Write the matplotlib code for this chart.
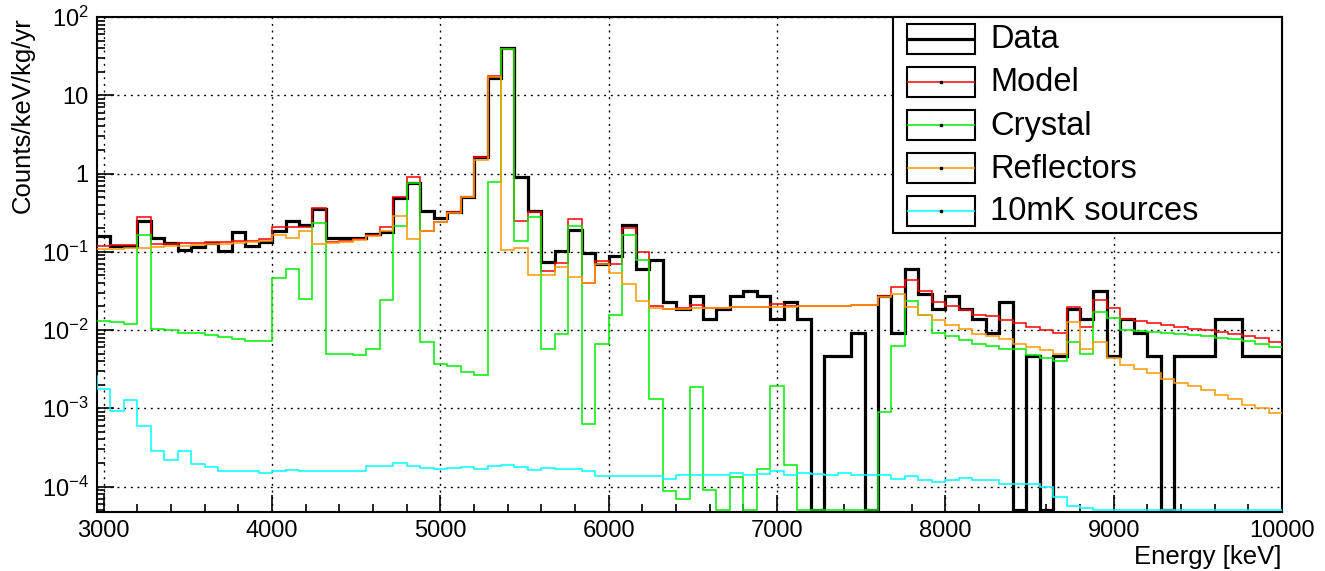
import numpy as np
import matplotlib
matplotlib.use("Agg")
import matplotlib.pyplot as plt
from matplotlib.ticker import FixedLocator, MultipleLocator, LogLocator, FuncFormatter, NullFormatter
from matplotlib.patches import Rectangle

plt.rcParams['font.family'] = ['Liberation Sans', 'DejaVu Sans']
plt.rcParams['mathtext.fontset'] = 'custom'
plt.rcParams['mathtext.rm'] = 'Liberation Sans'
plt.rcParams['mathtext.it'] = 'Liberation Sans:italic'
plt.rcParams['mathtext.bf'] = 'Liberation Sans:bold'

# ---------------- data ----------------
# 80 keV bins; first bin (2880-2960) lies just left of the visible axis range
bin_start = 2880
bin_width = 80
bin_stop = 10000

data = [0.160,
        0.160, 0.118, 0.118, 0.245, 0.149, 0.128, 0.104, 0.115, 0.128, 0.102,
        0.178, 0.118, 0.135, 0.182, 0.247, 0.222, 0.351, 0.152, 0.152, 0.150,
        0.168, 0.177, 0.490, 0.760, 0.333, 0.268, 0.320, 0.500, 1.64, 16.4,
        40.5, 0.89, 0.335, 0.073, 0.101, 0.190, 0.096, 0.069, 0.088, 0.217,
        0.061, 0.078, 0.0230, 0.0183, 0.0275, 0.0137, 0.0183, 0.0275, 0.0320, 0.0275,
        0.0137, 0.0230, 0.0137, 0.0, 0.0046, 0.0046, 0.0092, 0.0, 0.0275, 0.0092,
        0.060, 0.0290, 0.0183, 0.0275, 0.0183, 0.0137, 0.0092, 0.0230, 0.0, 0.0046,
        0.0, 0.0046, 0.0183, 0.0137, 0.0320, 0.0046, 0.0137, 0.0092, 0.0046, 0.0,
        0.0046, 0.0046, 0.0046, 0.0137, 0.0137, 0.0046, 0.0046, 0.0046]

model = [0.120,
         0.120, 0.122, 0.123, 0.275, 0.126, 0.127, 0.129, 0.131, 0.132, 0.134,
         0.137, 0.139, 0.144, 0.209, 0.210, 0.207, 0.362, 0.135, 0.137, 0.145,
         0.165, 0.207, 0.500, 0.900, 0.187, 0.243, 0.318, 0.500, 1.61, 17.8,
         38.7, 0.248, 0.322, 0.057, 0.072, 0.265, 0.040, 0.077, 0.070, 0.200,
         0.100, 0.0205, 0.0188, 0.0189, 0.0209, 0.0191, 0.0192, 0.0196, 0.0195, 0.0198,
         0.0218, 0.0200, 0.0200, 0.0201, 0.0203, 0.0205, 0.0207, 0.0210, 0.0274, 0.0350,
         0.0435, 0.0312, 0.0226, 0.0200, 0.0178, 0.0156, 0.0150, 0.0134, 0.0123, 0.0110,
         0.0101, 0.0091, 0.0195, 0.0109, 0.0243, 0.0190, 0.0140, 0.0130, 0.0122, 0.0115,
         0.0108, 0.0103, 0.0099, 0.0094, 0.0089, 0.0083, 0.0078, 0.0071]

crystal = [0.0132,
           0.0132, 0.0125, 0.0119, 0.162, 0.0103, 0.0099, 0.0092, 0.0091, 0.0086, 0.0081,
           0.0077, 0.0073, 0.0072, 0.046, 0.061, 0.025, 0.234, 0.0050, 0.0049, 0.0048,
           0.0058, 0.0245, 0.214, 0.76, 0.0071, 0.0037, 0.0035, 0.0029, 0.0027, 0.78,
           38.6, 0.136, 0.277, 0.0058, 0.0090, 0.215, 0.00063, 0.0066, 0.0157, 0.163,
           0.078, 0.0013, 8.8e-5, 7.0e-5, 1.86e-3, 9.0e-5, 0.0, 1.32e-4, 0.0, 1.66e-4,
           1.9e-3, 1.86e-4, 0.0, 0.0, 0.0, 0.0, 0.0, 0.0, 8.9e-4, 0.0062,
           0.0237, 0.0154, 0.0093, 0.0083, 0.0074, 0.0066, 0.0062, 0.0057, 0.0057, 0.0048,
           0.0044, 0.0040, 0.0070, 0.0049, 0.0172, 0.0143, 0.0101, 0.0096, 0.0094, 0.0091,
           0.0088, 0.0086, 0.0083, 0.0079, 0.0077, 0.0073, 0.0067, 0.0061]

reflectors = [0.107,
              0.107, 0.109, 0.111, 0.113, 0.115, 0.117, 0.119, 0.121, 0.124, 0.126,
              0.129, 0.132, 0.136, 0.163, 0.152, 0.182, 0.127, 0.130, 0.135, 0.142,
              0.158, 0.182, 0.288, 0.146, 0.183, 0.240, 0.315, 0.495, 1.50, 17.0,
              0.104, 0.113, 0.050, 0.0505, 0.063, 0.047, 0.0398, 0.0697, 0.0534, 0.0387,
              0.0237, 0.0191, 0.0187, 0.0188, 0.0190, 0.0190, 0.0192, 0.0195, 0.0195, 0.0196,
              0.0199, 0.0198, 0.0200, 0.0201, 0.0203, 0.0205, 0.0207, 0.0210, 0.0265, 0.0289,
              0.0196, 0.0154, 0.0133, 0.0115, 0.0103, 0.0090, 0.0083, 0.0077, 0.0067, 0.0061,
              0.0056, 0.0050, 0.0127, 0.0058, 0.0070, 0.0044, 0.0036, 0.0032, 0.0028, 0.0024,
              0.0021, 0.0019, 0.0017, 0.0015, 0.0013, 0.0011, 0.0010, 0.00087]

sources_10mk = [2.6e-3,
                1.78e-3, 9.2e-4, 1.29e-3, 6.0e-4, 2.83e-4, 2.17e-4, 2.83e-4, 1.97e-4, 1.77e-4, 1.60e-4,
                1.57e-4, 1.60e-4, 1.49e-4, 1.60e-4, 1.61e-4, 1.60e-4, 1.58e-4, 1.57e-4, 1.60e-4, 1.60e-4,
                1.82e-4, 1.82e-4, 2.00e-4, 1.82e-4, 1.73e-4, 1.70e-4, 1.73e-4, 1.80e-4, 1.70e-4, 1.85e-4,
                1.86e-4, 1.80e-4, 1.65e-4, 1.75e-4, 1.66e-4, 1.70e-4, 1.57e-4, 1.36e-4, 1.36e-4, 1.37e-4,
                1.38e-4, 1.38e-4, 1.26e-4, 1.40e-4, 1.41e-4, 1.41e-4, 1.42e-4, 1.50e-4, 1.42e-4, 1.45e-4,
                1.58e-4, 1.41e-4, 1.50e-4, 1.45e-4, 1.42e-4, 1.47e-4, 1.42e-4, 1.42e-4, 1.42e-4, 1.26e-4,
                1.35e-4, 1.22e-4, 1.15e-4, 1.20e-4, 1.28e-4, 1.22e-4, 1.22e-4, 1.07e-4, 1.07e-4, 1.09e-4,
                9.8e-5, 7.4e-5, 5.7e-5, 5.3e-5, 4.6e-5, 4.4e-5, 4.2e-5, 4.0e-5, 3.8e-5, 3.6e-5,
                3.5e-5, 3.4e-5, 3.3e-5, 3.2e-5, 3.1e-5, 3.0e-5, 2.9e-5, 2.8e-5]

labels = ["Data", "Model", "Crystal", "Reflectors", "10mK sources"]
x_ticks = [3000, 4000, 5000, 6000, 7000, 8000, 9000, 10000]
y_ticks = [1e-4, 1e-3, 1e-2, 1e-1, 1, 10, 100]

# ---------------- style ----------------
colors = ["black", "#ff0000", "#00ee00", "#ff9900", "#00ffff"]
widths = [2.3, 1.1, 1.1, 1.1, 1.1]
X_MIN, X_MAX = 2960, 10000
Y_MIN, Y_MAX = 4.8e-5, 100

W, H = 1325, 571
fig = plt.figure(figsize=(W / 100, H / 100), dpi=100)
ax = fig.add_axes([97 / W, 1 - 511.5 / H, (1282 - 97) / W, (511.5 - 17) / H])

edges = np.arange(bin_start, bin_stop + 1, bin_width)
series = [data, model, crystal, reflectors, sources_10mk]
for vals, c, lw in zip(series, colors, widths):
    v = np.clip(np.asarray(vals, dtype=float), Y_MIN * 1.03, None)
    ax.stairs(v, edges, baseline=None, color=c, lw=lw, zorder=3)

ax.set_yscale('log')
ax.set_xlim(X_MIN, X_MAX)
ax.set_ylim(Y_MIN, Y_MAX)

ax.xaxis.set_major_locator(FixedLocator(x_ticks))
ax.xaxis.set_minor_locator(MultipleLocator(200))
ax.yaxis.set_major_locator(FixedLocator(y_ticks))
ax.yaxis.set_minor_locator(LogLocator(base=10, subs=np.arange(2, 10), numticks=20))
ax.yaxis.set_minor_formatter(NullFormatter())


def yfmt(v, pos):
    e = int(round(np.log10(v)))
    if e == 0:
        return "1"
    if e == 1:
        return "10"
    return r"$10^{%d}$" % e


ax.yaxis.set_major_formatter(FuncFormatter(yfmt))
ax.tick_params(which='both', direction='in', top=False, right=False, width=1.2, labelsize=17)
ax.tick_params(axis='x', which='major', length=12, pad=6)
ax.tick_params(axis='x', which='minor', length=6)
ax.tick_params(axis='y', which='major', length=12, pad=6)
ax.tick_params(axis='y', which='minor', length=6)
for s in ax.spines.values():
    s.set_linewidth(1.5)

ax.grid(True, which='major', color='black', lw=1.0, linestyle=(0, (1.4, 3.4)), zorder=1)
ax.set_axisbelow(True)

ax.set_xlabel("Energy [keV]", loc='right', fontsize=18.5, labelpad=2)
ax.set_ylabel("Counts/keV/kg/yr", loc='top', fontsize=18.5, labelpad=5)

# ---------------- legend (ROOT style) ----------------
ov = fig.add_axes([0, 0, 1, 1], zorder=10)
ov.set_xlim(0, W)
ov.set_ylim(H, 0)
ov.axis('off')
ov.patch.set_alpha(0)
ov.add_patch(Rectangle((892.5, 17), 1282 - 892.5, 232.5 - 17, facecolor='white',
                       edgecolor='black', lw=1.5))
box_x0, box_x1 = 906.5, 975
row_tops = [23.5, 66.7, 110, 153, 196]
box_h = 30
for lab, c, lw, top in zip(labels, colors, widths, row_tops):
    ov.add_patch(Rectangle((box_x0, top), box_x1 - box_x0, box_h, facecolor='none',
                           edgecolor='black', lw=1.5))
    yc = top + box_h / 2
    ov.plot([box_x0, box_x1], [yc, yc], color=c, lw=lw, solid_capstyle='butt')
    if lab != "Data":
        ov.plot([(box_x0 + box_x1) / 2], [yc], marker='s', ms=1.5, color='black', mec='black')
    ov.text(990, yc + 1, lab, fontsize=23.5, va='center', ha='left')

fig.savefig("out.png", dpi=100)
